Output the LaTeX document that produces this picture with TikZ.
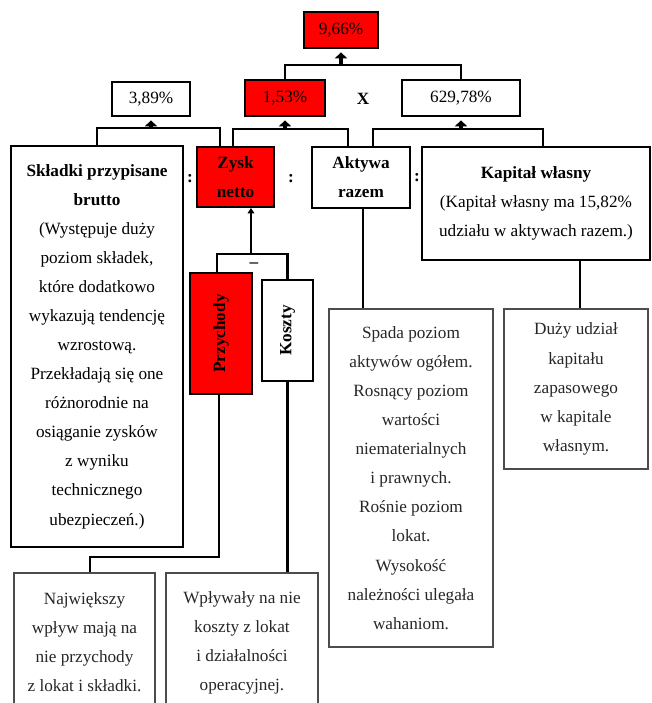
\documentclass[tikz,border=0pt]{standalone}
\usepackage{fontspec}
\setmainfont{Liberation Serif}
\usetikzlibrary{calc,arrows.meta}
\newcommand\fs{\fontsize{12.9}{21.8}\selectfont}
\begin{document}
\begin{tikzpicture}[x=0.75pt,y=-0.75pt,
  box/.style={draw=black, line width=1.5pt, inner sep=0pt, align=center, font=\fs, text=black},
  redbox/.style={box, fill=red},
  thinbox/.style={draw=black!70, line width=0.9pt, inner sep=0pt, align=center, font=\fs, text=black!85},
  sz/.style 2 args={minimum width=#1*0.75pt, minimum height=#2*0.75pt},
  conn/.style={line width=2.2pt},
  blockarr/.style={line width=3.6pt, -{Triangle[width=9pt,length=4.5pt]}, shorten >=2.5pt},
  sign/.style={font=\fs\bfseries, inner sep=0pt}]
\clip (0,0) rectangle (652,703);
\fill[white] (0,0) rectangle (652,703);

% top level
\node[redbox, sz={74}{36}] (top) at (341,30) {9,66\%};
\node[redbox, sz={80}{36}] (r153) at (285,98) {1,53\%};
\node[box, sz={118}{36}] (r629) at (461,98) {629,78\%};
\node[box, sz={78}{34}] (r389) at (151,99) {3,89\%};
\node[sign] (x) at (363,99) {X};

% second level
\node[box, sz={172}{401}] (skl) at (97,346.5) {\textbf{Składki przypisane}\\\textbf{brutto}\\(Występuje duży\\poziom składek,\\które dodatkowo\\wykazują tendencję\\wzrostową.\\Przekładają się one\\różnorodnie na\\osiąganie zysków\\z wyniku\\technicznego\\ubezpieczeń.)};
\node[redbox, sz={77}{60}] (zysk) at (235.5,177) {\textbf{Zysk}\\\textbf{netto}};
\node[box, sz={98}{61}] (akt) at (361,177.5) {\textbf{Aktywa}\\\textbf{razem}};
\node[box, sz={228}{113}] (kap) at (536,203.5) {\textbf{Kapitał własny}\\(Kapitał własny ma 15,82\%\\udziału w aktywach razem.)};
\node[sign] (c1) at (190,179) {:};
\node[sign] (c2) at (291,179) {:};
\node[sign] (c3) at (417,178) {:};

% zysk components
\node[redbox, sz={62}{121}] (prz) at (221,333.5) {\rotatebox{90}{\textbf{Przychody}}};
\node[box, sz={51}{101}] (kos) at (287.5,330.5) {\rotatebox{90}{\textbf{Koszty}}};
\node[sign] (minus) at (254,265) {--};

% descriptions
\node[thinbox, sz={164}{338}] (spada) at (411,478) {Spada poziom\\aktywów ogółem.\\Rosnący poziom\\wartości\\niematerialnych\\i prawnych.\\Rośnie poziom\\lokat.\\Wysokość\\należności ulegała\\wahaniom.};
\node[thinbox, sz={144}{160}] (duzy) at (576,389) {Duży udział\\kapitału\\zapasowego\\w kapitale\\własnym.};
\node[thinbox, sz={141}{139}] (najw) at (84.5,642.5) {Największy\\wpływ mają na\\nie przychody\\z lokat i składki.};
\node[thinbox, sz={152}{139}] (wply) at (242,642.5) {Wpływały na nie\\koszty z lokat\\i działalności\\operacyjnej.};

% connectors top
\draw[conn] (r153.north) -- ++(0,-14) coordinate (j0) -| (r629.north);
\draw[blockarr] (top.south |- j0) -- (top.south);

% connectors level 2
\draw[conn] (skl.north) -- ++(0,-17) coordinate (j1) -| ($(zysk.north)+(-15.5,0)$);
\draw[blockarr] (r389.south |- j1) -- (r389.south);
\draw[conn] ($(zysk.north)+(-2.5,0)$) -- ++(0,-17) coordinate (j2) -| ($(akt.north)+(-13,0)$);
\draw[blockarr] (r153.south |- j2) -- (r153.south);
\draw[conn] ($(akt.north)+(12,0)$) -- ++(0,-17) coordinate (j3) -| ($(kap.north)+(7,0)$);
\draw[blockarr] (r629.south |- j3) -- (r629.south);

% zysk decomposition
\coordinate (jz) at ($(zysk.south)+(15.5,46)$);
\draw[conn] ($(prz.north)+(-4,0)$) |- (jz) -| (kos.north);
\draw[conn, -{Triangle[width=5pt,length=4pt]}] (jz) -- (zysk.south -| jz);

% lower connectors
\draw[conn] ($(prz.south)+(-2,0)$) -- ++(0,162) -| ($(najw.north)+(5.5,0)$);
\draw[conn] (kos.south) -- (kos.south |- wply.north);
\draw[conn] ($(akt.south)+(2,0)$) -- ($(akt.south |- spada.north)+(2,0)$);
\draw[conn] ($(kap.south)+(44,0)$) -- ($(kap.south |- duzy.north)+(44,0)$);
\end{tikzpicture}
\end{document}
